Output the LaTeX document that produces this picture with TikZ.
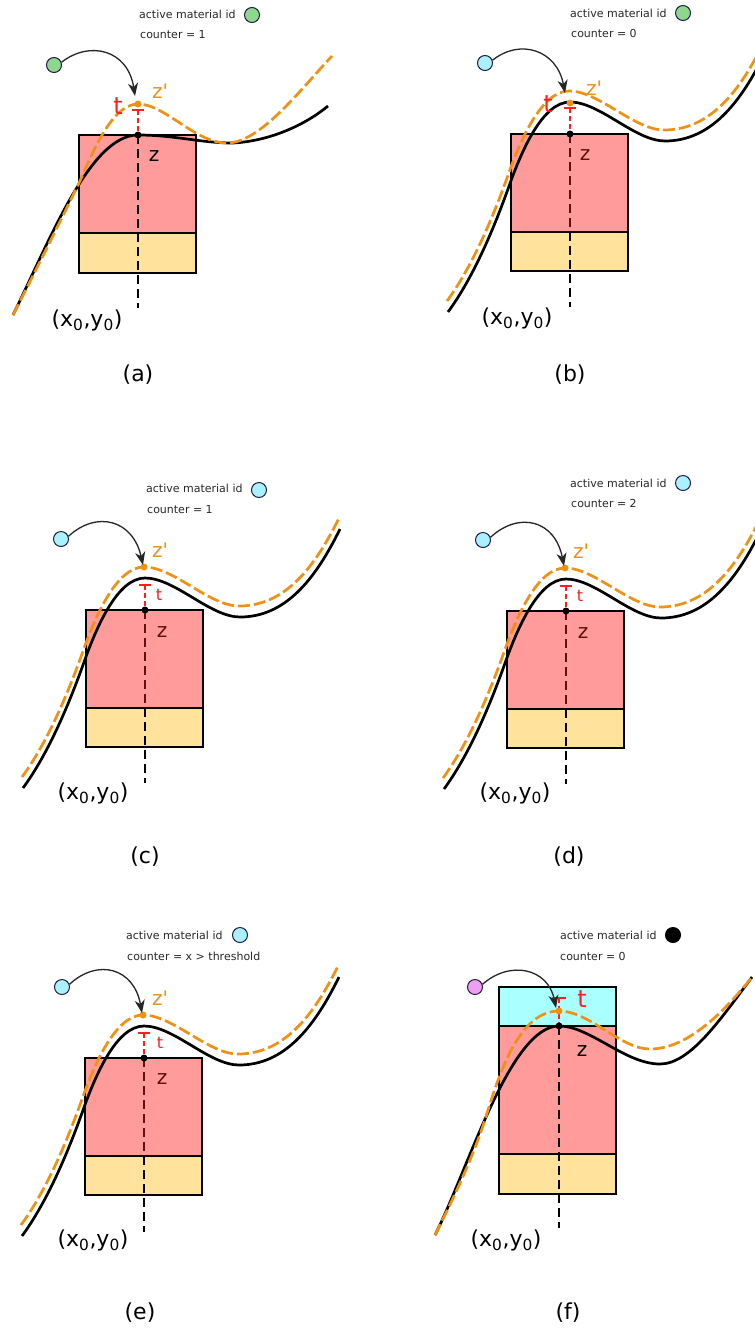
\documentclass[tikz,border=0pt]{standalone}
\usepackage{fontspec}
\setmainfont{DejaVu Sans}
\usetikzlibrary{arrows.meta}
\definecolor{pinkc}{RGB}{255,155,155}
\definecolor{yelc}{RGB}{255,226,156}
\definecolor{cyanbox}{RGB}{170,255,255}
\definecolor{greenball}{RGB}{142,216,142}
\definecolor{cyanball}{RGB}{170,240,255}
\definecolor{violetball}{RGB}{240,158,240}
\definecolor{orangec}{RGB}{240,145,20}
\definecolor{redc}{RGB}{255,30,30}
\definecolor{darkz}{RGB}{100,15,15}
\definecolor{ballrim}{RGB}{30,30,70}
\definecolor{txtc}{RGB}{40,40,40}
\tikzset{
 blackcurve/.style={draw=black, line width=2.7pt},
 orangecurve/.style={draw=orangec, line width=2.7pt, dash pattern=on 12pt off 4pt},
 vline/.style={draw=black, line width=2.2pt, dash pattern=on 9pt off 5pt},
 rline/.style={draw=redc, line width=2.2pt, dash pattern=on 5pt off 3pt},
 tbar/.style={draw=redc, line width=2.7pt},
 layer/.style={draw=black, line width=2.7pt},
 ball/.style={circle, draw=ballrim, line width=1pt, minimum size=15pt, inner sep=0pt},
 info/.style={anchor=west, font=\fontsize{11}{13}\selectfont, text=txtc, inner sep=0pt},
 zlab/.style={font=\fontsize{20}{22}\selectfont, inner sep=0pt},
 tlab/.style={font=\fontsize{24}{26}\selectfont, text=redc, inner sep=0pt},
 tsmall/.style={font=\fontsize{16}{18}\selectfont, text=redc, inner sep=0pt},
 xylab/.style={font=\fontsize{22}{24}\selectfont, inner sep=0pt},
 captext/.style={font=\fontsize{22}{24}\selectfont, inner sep=0pt},
 dot/.style={circle, fill=#1, minimum size=7pt, inner sep=0pt},
 hop/.style={draw=black!85, line width=1.3pt, -{Stealth[length=13pt,width=10pt,inset=4pt]}},
}
\newcommand{\zp}{z\textquotesingle}
\newcommand{\wavepath}{(-122,178) .. controls (-100,148) and (-80,105) .. (-62,55) .. controls (-48,15) and (-27,-32) .. (0,-32) .. controls (30,-32) and (65,7) .. (95,7) .. controls (140,7) and (170,-30) .. (195,-81)}
\newcommand{\wavepair}{%
 \draw[blackcurve] \wavepath;
 \draw[orangecurve, shift={(-1,-11)}] \wavepath;
}
\newcommand{\stackbox}{%
 \fill[pinkc] (-59,0) rectangle (58,98);
 \fill[yelc] (-59,98) rectangle (58,137);
 \draw[layer] (-59,0) rectangle (58,137);
 \draw[layer] (-59,98) -- (58,98);
}
\begin{document}
\begin{tikzpicture}[x=1pt,y=-1pt]
\useasboundingbox (0,0) rectangle (755,1331);
\fill[white] (0,0) rectangle (755,1331);

% ---------------- (a)
\fill[pinkc] (79,135) rectangle (196,233);
\fill[yelc] (79,233) rectangle (196,273);
\draw[layer] (79,135) rectangle (196,273);
\draw[layer] (79,233) -- (196,233);
\draw[blackcurve] (13,315) .. controls (50,240) and (90,135) .. (138,135) .. controls (175,135) and (200,143) .. (233,143) .. controls (270,141) and (305,125) .. (328,106);
\draw[orangecurve] (13,315) .. controls (35,272) and (60,222) .. (79,183) .. controls (90,160) and (110,104) .. (138,104) .. controls (165,104) and (195,143) .. (227,143) .. controls (260,143) and (300,90) .. (332,56);
\draw[vline] (138,135) -- (138,308);
\draw[rline] (138,110) -- (138,135);
\draw[tbar] (132,110) -- (144,110);
\node[dot=black] (zA) at (138,135) {};
\node[dot=orangec] (zpA) at (138,104) {};
\node[tlab] (tA) at (118,106) {t};
\node[zlab, text=orangec] (zlA) at (160,91) {\zp};
\node[zlab] (zzA) at (154,156) {z};
\node[xylab] (xyA) at (87,320) {(x\textsubscript{0},y\textsubscript{0})};
\node[captext] (capA) at (138,375) {(a)};
\node[info] (iA) at (139,14) {active material id};
\node[ball, fill=greenball] (mA) at (252,15) {};
\node[info] (cA) at (140,35) {counter = 1};
\node[ball, fill=greenball] (pA) at (54,65) {};
\coordinate (hA) at (135,96);
\draw[hop] (pA.20) .. controls (90,40) and (128,50) .. (hA);

% ---------------- (b)
\begin{scope}[shift={(570,134)}]
\stackbox
\wavepair
\draw[vline] (0,0) -- (0,173);
\draw[vline, draw=darkz] (0,0) -- (0,98);
\draw[rline] (0,-26) -- (0,0);
\draw[tbar] (-6,-26) -- (6,-26);
\node[dot=black] (zB) at (0,0) {};
\node[dot=orangec] (zpB) at (0,-31) {};
\node[tlab] (tB) at (-22,-30) {t};
\node[zlab, text=orangec] (zlB) at (24,-46) {\zp};
\node[zlab, text=darkz] (zzB) at (15,21) {z};
\coordinate (hB) at (-5,-41);
\end{scope}
\node[xylab] (xyB) at (517,318) {(x\textsubscript{0},y\textsubscript{0})};
\node[captext] (capB) at (570,375) {(b)};
\node[info] (iB) at (570,13) {active material id};
\node[ball, fill=greenball] (mB) at (683,13) {};
\node[info] (cB) at (571,33) {counter = 0};
\node[ball, fill=cyanball] (pB) at (485,63) {};
\draw[hop] (pB.20) .. controls (520,38) and (557,50) .. (hB);

% ---------------- (c)
\begin{scope}[shift={(145,610)}]
\stackbox
\wavepair
\draw[vline] (0,0) -- (0,173);
\draw[vline, draw=darkz] (0,0) -- (0,98);
\draw[rline] (0,-25) -- (0,0);
\draw[tbar] (-6,-25) -- (6,-25);
\node[dot=black] (zC) at (0,0) {};
\node[dot=orangec] (zpC) at (-1,-43) {};
\node[tsmall] (tC) at (14,-15) {t};
\node[zlab, text=orangec] (zlC) at (15,-60) {\zp};
\node[zlab, text=darkz] (zzC) at (17,22) {z};
\coordinate (hC) at (-2,-45);
\end{scope}
\node[xylab] (xyC) at (93,793) {(x\textsubscript{0},y\textsubscript{0})};
\node[captext] (capC) at (145,857) {(c)};
\node[info] (iC) at (146,488) {active material id};
\node[ball, fill=cyanball] (mC) at (259,490) {};
\node[info] (cC) at (147,510) {counter = 1};
\node[ball, fill=cyanball] (pC) at (61,539) {};
\draw[hop] (pC.20) .. controls (97,510) and (133,520) .. (hC);

% ---------------- (d)
\begin{scope}[shift={(566,611)}]
\stackbox
\wavepair
\draw[vline] (0,0) -- (0,173);
\draw[vline, draw=darkz] (0,0) -- (0,98);
\draw[rline] (0,-25) -- (0,0);
\draw[tbar] (-6,-25) -- (6,-25);
\node[dot=black] (zD) at (0,0) {};
\node[dot=orangec] (zpD) at (-1,-43) {};
\node[tsmall] (tD) at (14,-15) {t};
\node[zlab, text=orangec] (zlD) at (15,-60) {\zp};
\node[zlab, text=darkz] (zzD) at (17,22) {z};
\coordinate (hD) at (-2,-45);
\end{scope}
\node[xylab] (xyD) at (515,793) {(x\textsubscript{0},y\textsubscript{0})};
\node[captext] (capD) at (569,857) {(d)};
\node[info] (iD) at (570,483) {active material id};
\node[ball, fill=cyanball] (mD) at (683,483) {};
\node[info] (cD) at (571,503) {counter = 2};
\node[ball, fill=cyanball] (pD) at (483,540) {};
\draw[hop] (pD.20) .. controls (519,511) and (555,520) .. (hD);

% ---------------- (e)
\begin{scope}[shift={(144,1058)}]
\stackbox
\wavepair
\draw[vline] (0,0) -- (0,174);
\draw[vline, draw=darkz] (0,0) -- (0,98);
\draw[rline] (0,-25) -- (0,0);
\draw[tbar] (-6,-25) -- (6,-25);
\node[dot=black] (zE) at (0,0) {};
\node[dot=orangec] (zpE) at (-1,-43) {};
\node[tsmall] (tE) at (16,-15) {t};
\node[zlab, text=orangec] (zlE) at (16,-60) {\zp};
\node[zlab, text=darkz] (zzE) at (18,21) {z};
\coordinate (hE) at (-2,-45);
\end{scope}
\node[xylab] (xyE) at (93,1240) {(x\textsubscript{0},y\textsubscript{0})};
\node[captext] (capE) at (140,1313) {(e)};
\node[info] (iE) at (126,935) {active material id};
\node[ball, fill=cyanball] (mE) at (240,935) {};
\node[info] (cE) at (127,956) {counter = x > threshold};
\node[ball, fill=cyanball] (pE) at (62,987) {};
\draw[hop] (pE.20) .. controls (98,958) and (134,968) .. (hE);

% ---------------- (f)
\fill[cyanbox] (499,987) rectangle (616,1026);
\fill[pinkc] (499,1026) rectangle (616,1154);
\fill[yelc] (499,1154) rectangle (616,1194);
\draw[layer] (499,987) rectangle (616,1194);
\draw[layer] (499,1026) -- (616,1026);
\draw[layer] (499,1154) -- (616,1154);
\draw[blackcurve] (435,1235) .. controls (468,1170) and (510,1026) .. (559,1026) .. controls (590,1026) and (625,1064) .. (660,1064) .. controls (690,1064) and (720,1020) .. (752,977);
\draw[orangecurve] (435,1235) .. controls (450,1205) and (470,1165) .. (485,1120) .. controls (500,1070) and (520,1011) .. (559,1011) .. controls (590,1011) and (620,1049) .. (650,1049) .. controls (685,1049) and (720,1017) .. (752,977);
\draw[vline] (559,1026) -- (559,1228);
\draw[rline] (559,998) -- (559,1026);
\draw[tbar] (552,998) -- (566,998);
\node[dot=black] (zF) at (559,1026) {};
\node[dot=orangec] (zpF) at (559,1011) {};
\node[tlab] (tF) at (582,999) {t};
\node[zlab] (zzF) at (582,1051) {z};
\node[xylab] (xyF) at (506,1240) {(x\textsubscript{0},y\textsubscript{0})};
\node[captext] (capF) at (568,1313) {(f)};
\node[info] (iF) at (560,935) {active material id};
\node[ball, fill=black, draw=black] (mF) at (673,935) {};
\node[info] (cF) at (560,956) {counter = 0};
\node[ball, fill=violetball] (pF) at (475,987) {};
\coordinate (hF) at (556,1008);
\draw[hop] (pF.20) .. controls (510,960) and (548,968) .. (hF);
\end{tikzpicture}
\end{document}
